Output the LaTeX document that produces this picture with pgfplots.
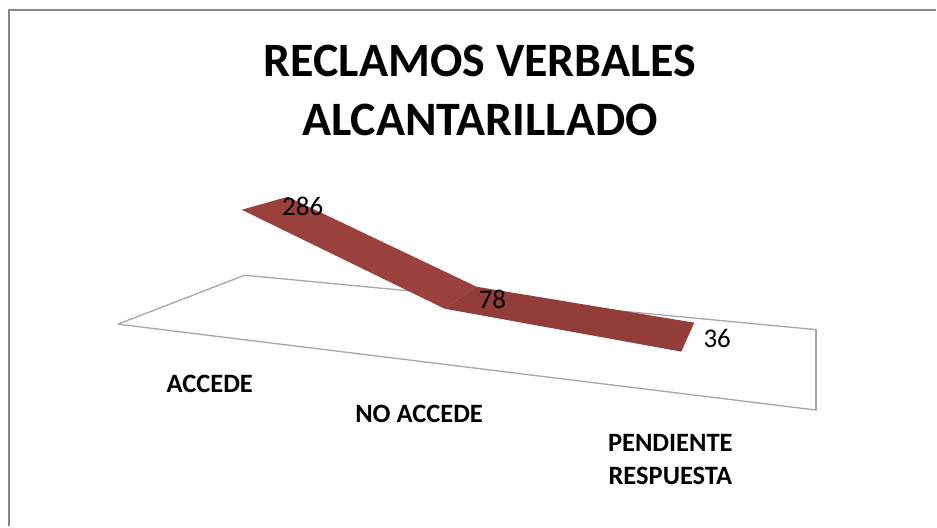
\documentclass[border=0pt]{standalone}
\usepackage{fontspec}
\setmainfont{Carlito}
\usepackage{pgfplots}
\pgfplotsset{compat=1.18}
\definecolor{ribA}{HTML}{9A413D}
\definecolor{ribB}{HTML}{933D3A}
\definecolor{floorgray}{HTML}{A6A6A6}
\definecolor{framegray}{HTML}{868686}
\begin{document}
\begin{tikzpicture}
\begin{axis}[
  scale only axis,
  width=937pt,
  height=527pt,
  xmin=0, xmax=937,
  ymin=0, ymax=527,
  y dir=reverse,
  axis lines=none,
  clip=false,
]
% keep the page at the full size
\path (axis cs:0,0) rectangle (axis cs:937,527);
% frame, only top and left show in the crop
\addplot[framegray,line width=2pt] coordinates {(9.5,527) (9.5,10) (937,10)};
% floor of the 3d chart
\addplot[floorgray,line width=1.3pt] coordinates {(118,324.5) (245,275.5) (817,330) (817,410.5) (118,324.5)};
\addplot[floorgray,line width=2pt] coordinates {(817,330) (817,410.5)};
% ribbon
\addplot[fill=ribA,draw=none] coordinates {(242,210) (288,197) (477,287) (445,309)} --cycle;
\addplot[fill=ribB,draw=none] coordinates {(445,309) (477,287) (695,323) (682,352)} --cycle;
% data labels
\addplot[draw=none,nodes near coords,point meta=explicit symbolic,
  every node near coord/.append style={font=\fontsize{27}{30}\selectfont,anchor=center,inner sep=0pt}]
  table[meta=v] {
x y v
303 207 286
493 300 78
718 339 36
};
% category labels
\node[font=\fontsize{26.5}{33}\selectfont\bfseries] at (axis cs:210,384) {ACCEDE};
\node[font=\fontsize{26.5}{33}\selectfont\bfseries] at (axis cs:419.5,414) {NO ACCEDE};
\node[font=\fontsize{26.5}{33}\selectfont\bfseries,align=center] at (axis cs:671,460) {PENDIENTE\\RESPUESTA};
% title
\node[font=\fontsize{48}{58.5}\selectfont\bfseries,align=center] at (axis cs:480.5,90.5) {RECLAMOS VERBALES\\ALCANTARILLADO};
\end{axis}
\end{tikzpicture}
\end{document}
